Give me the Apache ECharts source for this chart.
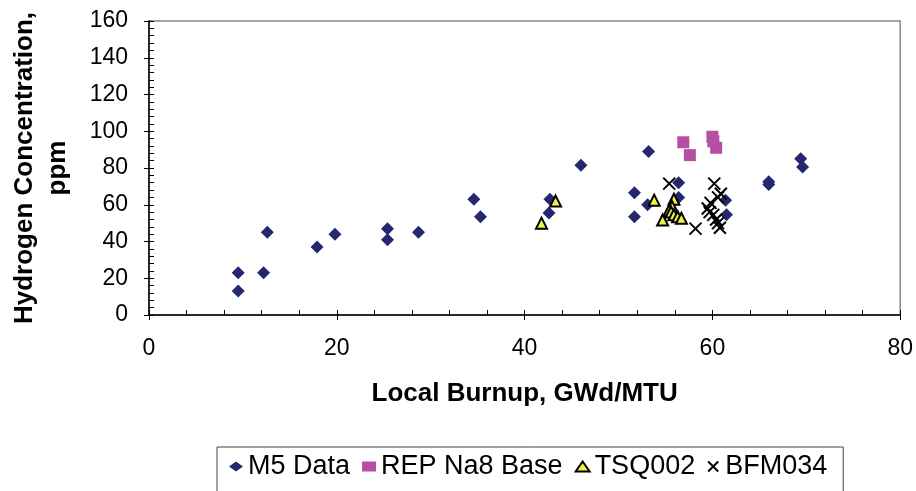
<!DOCTYPE html>
<html>
<head>
<meta charset="utf-8">
<script src="https://cdn.jsdelivr.net/npm/echarts@6/dist/echarts.min.js"></script>
<style>
html,body{margin:0;padding:0;background:#fff;}
#c{width:916px;height:491px;}
</style>
</head>
<body>
<div id="c"></div>
<script>
var xTicks = [0, 20, 40, 60, 80];
var yTicks = [0, 20, 40, 60, 80, 100, 120, 140, 160];

var m5Data = [
  [9.5, 23], [9.5, 13], [12.2, 23], [12.6, 45], [17.9, 37], [19.8, 44],
  [25.4, 47], [25.4, 41], [28.7, 45], [34.6, 63], [35.3, 53.5], [42.7, 63],
  [42.6, 55.5], [46, 81.5], [51.7, 66.5], [51.7, 53.5], [53.1, 60], [53.2, 89],
  [56.4, 72], [56.4, 64], [61.4, 62.4], [61.5, 54.6], [66, 71], [66, 72.5],
  [69.4, 85], [69.6, 80.5]
];
var repNa8Base = [
  [56.9, 94], [57.6, 87], [60, 97], [60.1, 94.5], [60.4, 91]
];
var tsq002 = [
  [41.8, 50], [43.3, 62], [53.8, 62.5], [55.9, 63], [55.7, 59], [55.4, 57],
  [55.6, 56], [55.9, 54.5], [56.3, 53.5], [56.7, 52.6], [54.7, 51.7]
];
var bfm034 = [
  [55.4, 71.5], [58.2, 47], [60.2, 71.5], [60.9, 66], [60.6, 64], [59.8, 61],
  [59.5, 58], [59.7, 56], [60.1, 54.5], [60.4, 52], [60.6, 50], [60.8, 47.5]
];

var FONT = "'Liberation Sans', Arial, sans-serif";
var chart = echarts.init(document.getElementById('c'), null, {renderer: 'canvas'});

var xMin = xTicks[0], xMax = xTicks[xTicks.length - 1], xInt = xTicks[1] - xTicks[0];
var yMin = yTicks[0], yMax = yTicks[yTicks.length - 1], yInt = yTicks[1] - yTicks[0];

chart.setOption({
  animation: false,
  backgroundColor: '#fff',
  grid: {
    left: 145, right: 15, top: 21, bottom: 176,
    show: true, borderColor: '#888', borderWidth: 1.5, backgroundColor: 'transparent'
  },
  xAxis: [{
    type: 'value', min: xMin, max: xMax, interval: xInt, position: 'bottom',
    name: 'Local Burnup, GWd/MTU', nameLocation: 'middle', nameGap: 66,
    nameTextStyle: {fontFamily: FONT, fontSize: 26, fontWeight: 'bold', color: '#000'},
    axisLine: {show: true, onZero: false, lineStyle: {color: '#000', width: 1.5}},
    axisTick: {show: true, inside: true, length: 5, lineStyle: {color: '#000', width: 1}},
    minorTick: {show: true, splitNumber: 5, length: 5, lineStyle: {color: '#000', width: 1}},
    axisLabel: {fontFamily: FONT, fontSize: 23, color: '#000', margin: 22},
    splitLine: {show: false}
  }, {
    type: 'value', min: xMin, max: xMax, interval: xInt, position: 'bottom',
    axisLine: {show: false, onZero: false},
    axisTick: {show: true, inside: false, length: 5, lineStyle: {color: '#000', width: 1}},
    axisLabel: {show: false},
    splitLine: {show: false}
  }],
  yAxis: [{
    type: 'value', min: yMin, max: yMax, interval: yInt, position: 'left',
    name: 'Hydrogen Concentration,\nppm', nameLocation: 'middle', nameGap: 75, nameRotate: 90,
    nameTextStyle: {fontFamily: FONT, fontSize: 26, fontWeight: 'bold', color: '#000', lineHeight: 33},
    axisLine: {show: true, onZero: false, lineStyle: {color: '#000', width: 1.5}},
    axisTick: {show: true, inside: true, length: 5, lineStyle: {color: '#000', width: 1}},
    minorTick: {show: true, splitNumber: 5, length: 5, lineStyle: {color: '#000', width: 1}},
    axisLabel: {fontFamily: FONT, fontSize: 23, color: '#000', margin: 21},
    splitLine: {show: false}
  }, {
    type: 'value', min: yMin, max: yMax, interval: yInt, position: 'left',
    axisLine: {show: false, onZero: false},
    axisTick: {show: true, inside: false, length: 5, lineStyle: {color: '#000', width: 1}},
    axisLabel: {show: false},
    splitLine: {show: false}
  }],
  legend: {
    left: 217, top: 447,
    orient: 'horizontal',
    backgroundColor: '#fff',
    borderColor: '#444', borderWidth: 1,
    padding: [6, 16, 30, 12],
    itemGap: 12, itemWidth: 14, itemHeight: 10,
    textStyle: {fontFamily: FONT, fontSize: 27, color: '#000'},
    data: ['M5 Data', 'REP Na8 Base', 'TSQ002', 'BFM034']
  },
  series: [{
    name: 'M5 Data', type: 'scatter', xAxisIndex: 0, yAxisIndex: 0,
    symbol: 'diamond', symbolSize: 13,
    itemStyle: {color: '#26286f', opacity: 1},
    emphasis: {disabled: true},
    data: m5Data
  }, {
    name: 'REP Na8 Base', type: 'scatter', xAxisIndex: 0, yAxisIndex: 0,
    symbol: 'rect', symbolSize: 12,
    itemStyle: {color: '#b64fa4', opacity: 1},
    emphasis: {disabled: true},
    data: repNa8Base
  }, {
    name: 'TSQ002', type: 'scatter', xAxisIndex: 0, yAxisIndex: 0,
    symbol: 'triangle', symbolSize: 11,
    itemStyle: {color: '#f0f04a', borderColor: '#000', borderWidth: 2, opacity: 1},
    emphasis: {disabled: true},
    data: tsq002
  }, {
    name: 'BFM034', type: 'scatter', xAxisIndex: 0, yAxisIndex: 0,
    symbol: 'path://M0,0L10,10M10,0L0,10', symbolSize: 12,
    itemStyle: {color: '#000', borderColor: '#000', borderWidth: 2, opacity: 1},
    emphasis: {disabled: true},
    data: bfm034
  }]
});
</script>
</body>
</html>
